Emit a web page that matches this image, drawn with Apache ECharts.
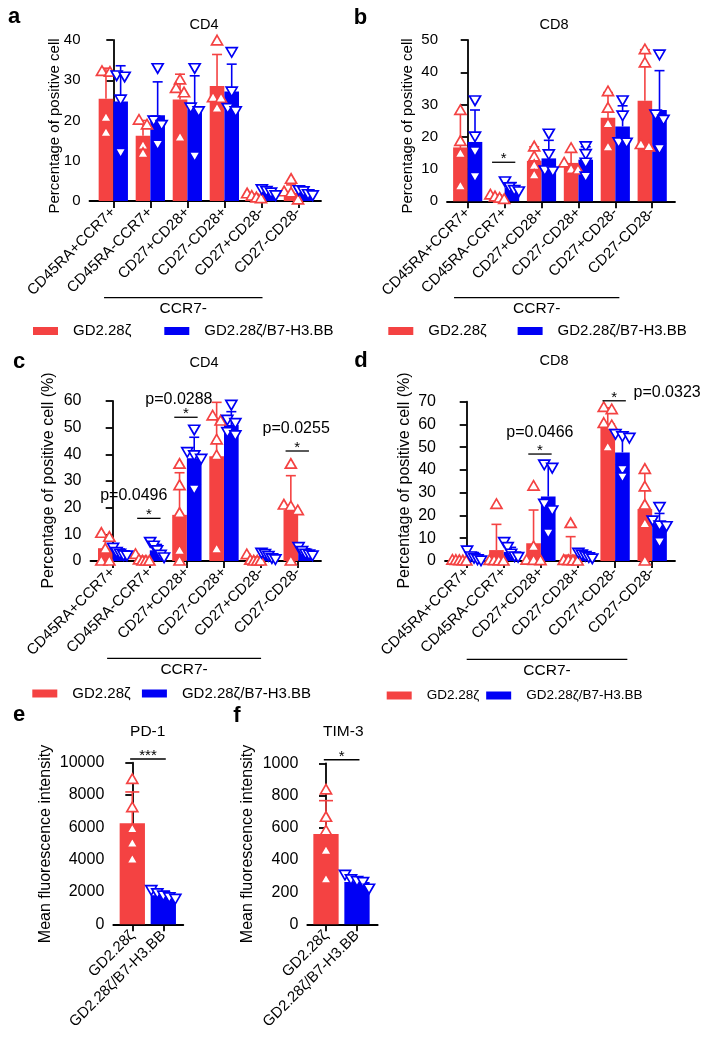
<!DOCTYPE html>
<html><head><meta charset="utf-8">
<script src="https://cdn.jsdelivr.net/npm/echarts@6/dist/echarts.min.js"></script>
<style>html,body{margin:0;padding:0;background:#fff}#c{width:709px;height:1050px}</style>
</head><body><div id="c"></div><script>
const FONT = "'Liberation Sans', Arial, Helvetica, sans-serif";
const RED = '#F44242', BLUE = '#0000F5';

// ---------- data ----------
const CATS = ['CD45RA+CCR7+','CD45RA-CCR7+','CD27+CD28+','CD27-CD28+','CD27+CD28-','CD27-CD28-'];
const GROUPS = ['GD2.28ζ','GD2.28ζ/B7-H3.BB'];

// panel a: CD4, percentage of positive cell
const A_RED_MEAN = [25.4, 16.2, 25.2, 28.6, 1.1, 2.0];
const A_RED_ERR  = [33.0, 20.0, 31.5, 36.4, 1.7, 4.0];
const A_RED_PTS  = [[32.2,32.0,20.7,17.0],[20.1,18.9,13.8,11.8],[30.1,28.0,26.9,15.8],[39.8,25.7,25.5,23.0],[1.8,1.2,0.8,0.6],[5.4,2.3,2.0,0.3]];
const A_BLUE_MEAN = [24.7, 21.3, 22.8, 27.2, 2.1, 2.0];
const A_BLUE_ERR  = [33.6, 29.6, 31.1, 34.0, 2.9, 2.7];
const A_BLUE_PTS  = [[31.3,31.0,25.3,12.1],[33.1,20.1,19.0,14.1],[33.1,23.3,22.4,11.2],[37.1,27.3,23.2,22.4],[3.0,2.6,2.2,1.5],[2.8,2.5,1.8,1.5]];

// panel b: CD8, percentage of positive cell
const B_RED_MEAN = [16.7, 1.0, 12.5, 11.9, 25.9, 31.2];
const B_RED_ERR  = [27.0, 2.0, 16.9, 15.5, 33.7, 47.0];
const B_RED_PTS  = [[28.2,18.6,14.8,4.7],[2.0,1.4,1.0,0.6],[16.9,13.8,11.1,8.1],[16.4,11.9,9.9,9.7],[34.0,28.9,24.0,16.8],[47.0,42.9,17.6,16.9]];
const B_BLUE_MEAN = [18.4, 4.3, 13.3, 12.9, 23.2, 28.3];
const B_BLUE_ERR  = [28.3, 5.8, 18.9, 16.9, 29.6, 40.5];
const B_BLUE_PTS  = [[31.4,20.2,15.6,7.7],[6.3,4.5,3.6,3.2],[21.1,14.7,9.7,9.4],[17.2,14.8,12.1,7.8],[31.4,26.7,18.4,18.3],[45.6,27.0,25.4,16.4]];
const B_SIG = [{from:1, to:1, y:12.1, star:'*', p:''}];

// panel c: CD4, percentage of positive cell (%)
const C_RED_MEAN = [4.8, 0.6, 17.3, 39.3, 0.5, 19.1];
const C_RED_ERR  = [9.3, 1.8, 33.1, 59.5, 1.6, 32.0];
const C_RED_PTS  = [[10.4,8.9,4.5,0,0],[2.5,0.4,0,0,0],[36.3,28.3,17.9,3.9,0],[54.4,52.5,45.4,39.5,4.5],[2.4,0.3,0,0,0],[36.3,21.0,20.4,18.9,0]];
const C_BLUE_MEAN = [3.3, 4.0, 38.5, 51.0, 2.0, 3.6];
const C_BLUE_ERR  = [4.5, 6.2, 46.4, 56.0, 3.0, 4.6];
const C_BLUE_PTS  = [[5.1,3.5,2.9,2.3,2.2],[7.3,5.9,4.2,2.5,1.5],[49.4,41.0,39.8,38.5,27.0],[58.7,53.1,51.9,48.5,47.3],[3.2,2.8,2.0,1.2,0.8],[5.4,3.9,2.9,2.6,2.2]];
const C_SIG = [{from:1,to:1,y:16.0,star:'*',p:'p=0.0496'},{from:2,to:2,y:53.9,star:'*',p:'p=0.0288'},{from:5,to:5,y:41.25,star:'*',p:'p=0.0255'}];

// panel d: CD8, percentage of positive cell (%)
const D_RED_MEAN = [0.2, 4.8, 7.8, 2.9, 60.5, 22.8];
const D_RED_ERR  = [0.5, 16.1, 22.4, 10.7, 67.3, 39.7];
const D_RED_PTS  = [[0.4,0.3,0.2,0.1,0],[24.9,0.3,0.2,0.1,0],[32.9,6.3,0.4,0.3,0.2],[16.5,0.3,0.2,0.1,0],[67.5,66.5,60.5,59.5,50.0],[40.3,32.6,24.6,16.3,0]];
const D_BLUE_MEAN = [1.9, 4.0, 28.3, 2.5, 47.7, 16.3];
const D_BLUE_ERR  = [3.7, 6.0, 42.5, 3.5, 55.3, 20.9];
const D_BLUE_PTS  = [[4.8,2.2,1.5,0.9,0.4],[8.5,6.3,3.4,2.2,1.9],[42.6,41.1,25.3,22.4,12.4],[3.8,3.0,2.4,1.8,1.3],[56.0,55.0,54.3,40.3,37.0],[23.9,18.0,15.8,15.5,8.5]];
const D_SIG = [{from:2,to:2,y:47.0,star:'*',p:'p=0.0466'},{from:4,to:4,y:70.4,star:'*',p:'p=0.0323'}];

// panel e: PD-1 MFI ; panel f: TIM-3 MFI
const E_MEAN = [6250, 1800];
const E_ERR  = [8190, 2020];
const E_PTS  = [[8970,7220,5900,5010,4020],[2150,1950,1800,1700,1600]];
const E_SIG  = [{from:0,to:1,y:10230,star:'***',p:''}];
const F_MEAN = [561, 262];
const F_ERR  = [768, 290];
const F_PTS  = [[835,665,580,458,280],[310,282,271,265,224]];
const F_SIG  = [{from:0,to:1,y:1022,star:'*',p:''}];

const Y_TICKS = {a:[0,40,10], b:[0,50,10], c:[0,60,10], d:[0,70,10], e:[0,10000,2000], f:[0,1000,200]};

// ---------- layout ----------
const GRIDS = [
  {left:89.5, top:40,    width:231.5, height:161,   xmin:-0.643, xmax:5.61,  y:Y_TICKS.a, fs:15, cats:CATS},
  {left:447,  top:40,    width:228,   height:161.3, xmin:-0.561, xmax:5.618, y:Y_TICKS.b, fs:15, cats:CATS},
  {left:90.5, top:401,   width:230.5, height:160,   xmin:-0.598, xmax:5.615, y:Y_TICKS.c, fs:16, cats:CATS},
  {left:445,  top:401.7, width:230,   height:159.3, xmin:-0.585, xmax:5.615, y:Y_TICKS.d, fs:16, cats:CATS},
  {left:113.3,top:762.7, width:70,    height:161.6, xmin:-0.613, xmax:1.645, y:Y_TICKS.e, fs:16, cats:GROUPS},
  {left:307.3,top:763.3, width:70.4,  height:161,   xmin:-0.603, xmax:1.668, y:Y_TICKS.f, fs:16, cats:GROUPS},
];
const P_OFFSETS = [[], [], [[-16,-23],[-8,-18],[-2,-22]], [[-1,-21],[52,-8.5]], [], []];
const BRACKETS = [[-0.25,4.03,96.7],[-0.37,4.11,96.4],[-0.15,4.0,97.3],[0.0,4.33,98.3]];

const grids=[], xAxes=[], yAxes=[], series=[];
GRIDS.forEach((g,gi)=>{
  grids.push({left:g.left, top:g.top, width:g.width, height:g.height, containLabel:false});
  const idx = g.cats.map((_,i)=>i);
  xAxes.push({type:'value', gridIndex:gi, min:g.xmin, max:g.xmax, splitLine:{show:false},
    axisLine:{show:true, onZero:false, lineStyle:{color:'#000', width:1.8}},
    axisTick:{show:true, customValues:idx, length:7, lineStyle:{color:'#000', width:1.8}},
    axisLabel:{show:true, customValues:idx, rotate:45, margin:9, fontSize:15, fontFamily:FONT, color:'#000',
      formatter:(v)=>g.cats[Math.round(v)]}
  });
  yAxes.push({type:'value', gridIndex:gi, min:g.y[0], max:g.y[1], interval:g.y[2], splitLine:{show:false},
    axisLine:{show:true, lineStyle:{color:'#000', width:1.8}},
    axisTick:{show:true, inside:false, length:7, lineStyle:{color:'#000', width:1.8}},
    axisLabel:{margin:9, fontSize:g.fs, fontFamily:FONT, color:'#000', formatter:(v)=>String(v)}
  });
});

function tri(x,y,color,dir){
  const pts = dir>0 ? [[x,y-5.5],[x+5.5,y+4],[x-5.5,y+4]] : [[x,y+5.5],[x+5.5,y-4],[x-5.5,y-4]];
  return {type:'polygon', shape:{points:pts}, style:{fill:'#fff', stroke:color, lineWidth:1.7}, z2:5};
}

function barSeries(gi, name, color, cats, means, errs, pts, dir, off, bw, capW){
  return {type:'custom', name, xAxisIndex:gi, yAxisIndex:gi, clip:false, silent:true,
    itemStyle:{color},
    data: cats.map(c=>[c, means[c], errs[c]]),
    renderItem(params, api){
      const i = params.dataIndex;
      const cat = api.value(0), m = api.value(1), e = api.value(2);
      const unit = api.size([1,0])[0];
      const cx = api.coord([cat+off,0])[0];
      const y0 = api.coord([cat,0])[1];
      const ym = api.coord([cat,m])[1];
      const ye = api.coord([cat,e])[1];
      const w = bw*unit;
      const ch = [];
      ch.push({type:'rect', shape:{x:cx-w/2, y:ym, width:w, height:y0-ym}, style:{fill:color}});
      if (e > m) {
        ch.push({type:'line', shape:{x1:cx,y1:ym,x2:cx,y2:ye}, style:{stroke:color,lineWidth:1.6}});
        ch.push({type:'line', shape:{x1:cx-capW/2,y1:ye,x2:cx+capW/2,y2:ye}, style:{stroke:color,lineWidth:1.6}});
      }
      const vals = pts[cats[i]];
      const ys = vals.map(v=>api.coord([cat,v])[1]).sort((a,b)=>a-b);
      let k=0;
      while(k<ys.length){
        let j=k+1;
        while(j<ys.length && ys[j]-ys[j-1] < 7) j++;
        const n=j-k;
        const sp = n>1 ? Math.min(8, w*0.95/(n-1)) : 0;
        for(let q=0;q<n;q++) ch.push(tri(cx+(q-(n-1)/2)*sp, ys[k+q], color, dir));
        k=j;
      }
      return {type:'group', children:ch};
    }
  };
}

function sigSeries(gi, sigs){
  return {type:'custom', xAxisIndex:gi, yAxisIndex:gi, clip:false, silent:true, z:10,
    data: sigs.map(s=>[s.from, s.y]),
    renderItem(params, api){
      const s = sigs[params.dataIndex];
      const x0v = s.from===s.to ? s.from-0.34 : s.from-0.07;
      const x1v = s.from===s.to ? s.to+0.29 : s.to+0.08;
      const p0 = api.coord([x0v, s.y]), p1 = api.coord([x1v, s.y]);
      const mx = (p0[0]+p1[0])/2;
      const ch = [
        {type:'line', shape:{x1:p0[0],y1:p0[1],x2:p1[0],y2:p1[1]}, style:{stroke:'#000', lineWidth:1.3}},
        {type:'text', x:mx, y:p0[1]-3, style:{text:s.star, fill:'#000', font:'15px '+FONT, align:'center', verticalAlign:'middle'}}
      ];
      if (s.p) {
        const c = api.coord([s.from, s.y]);
        const o = P_OFFSETS[gi][params.dataIndex];
        ch.push({type:'text', x:c[0]+o[0], y:c[1]+o[1], style:{text:s.p, fill:'#000', font:'16px '+FONT, align:'center', verticalAlign:'middle'}});
      }
      return {type:'group', children:ch};
    }
  };
}

function bracketSeries(gi){
  const b = BRACKETS[gi];
  return {type:'custom', xAxisIndex:gi, yAxisIndex:gi, clip:false, silent:true,
    data:[[b[0],0]],
    renderItem(params, api){
      const p0 = api.coord([b[0],0]), p1 = api.coord([b[1],0]);
      const y = p0[1]+b[2];
      return {type:'group', children:[
        {type:'line', shape:{x1:p0[0],y1:y,x2:p1[0],y2:y}, style:{stroke:'#000', lineWidth:1.3}},
        {type:'text', x:(p0[0]+p1[0])/2, y:y+11, style:{text:'CCR7-', fill:'#000', font:'15.5px '+FONT, align:'center', verticalAlign:'middle'}}
      ]};
    }
  };
}

const six = [0,1,2,3,4,5];
const panels = [
  [A_RED_MEAN,A_RED_ERR,A_RED_PTS,A_BLUE_MEAN,A_BLUE_ERR,A_BLUE_PTS,[]],
  [B_RED_MEAN,B_RED_ERR,B_RED_PTS,B_BLUE_MEAN,B_BLUE_ERR,B_BLUE_PTS,B_SIG],
  [C_RED_MEAN,C_RED_ERR,C_RED_PTS,C_BLUE_MEAN,C_BLUE_ERR,C_BLUE_PTS,C_SIG],
  [D_RED_MEAN,D_RED_ERR,D_RED_PTS,D_BLUE_MEAN,D_BLUE_ERR,D_BLUE_PTS,D_SIG],
];
panels.forEach((p,gi)=>{
  series.push(barSeries(gi, GROUPS[0], RED, six, p[0], p[1], p[2], 1, -0.198, 0.395, 10));
  series.push(barSeries(gi, GROUPS[1], BLUE, six, p[3], p[4], p[5], -1, 0.198, 0.395, 10));
  if (p[6].length) series.push(sigSeries(gi, p[6]));
  series.push(bracketSeries(gi));
});
series.push(barSeries(4, GROUPS[0], RED, [0], E_MEAN, E_ERR, E_PTS, 1, 0, 0.816, 14));
series.push(barSeries(4, GROUPS[1], BLUE, [1], E_MEAN, E_ERR, E_PTS, -1, 0, 0.816, 14));
series.push(sigSeries(4, E_SIG));
series.push(barSeries(5, GROUPS[0], RED, [0], F_MEAN, F_ERR, F_PTS, 1, 0, 0.816, 14));
series.push(barSeries(5, GROUPS[1], BLUE, [1], F_MEAN, F_ERR, F_PTS, -1, 0, 0.816, 14));
series.push(sigSeries(5, F_SIG));

function legend(left, top, gap, fs){
  return {show:true, left, top, padding:0, orient:'horizontal', icon:'rect', itemWidth:25, itemHeight:8, itemGap:gap,
    selectedMode:false, data:GROUPS.map(n=>({name:n})),
    textStyle:{fontSize:fs, fontFamily:FONT, color:'#000', padding:[0,0,0,10]}};
}

function txt(text, x, y, font, rot){
  return {type:'text', x, y, rotation:rot||0, silent:true,
    style:{text, fill:'#000', font, align:'center', verticalAlign:'middle', textAlign:'center', textVerticalAlign:'middle'}};
}
const graphic = [
  txt('a', 14, 17, 'bold 22px '+FONT), txt('b', 360.5, 18, 'bold 22px '+FONT),
  txt('c', 19, 362, 'bold 22px '+FONT), txt('d', 361, 361, 'bold 22px '+FONT),
  txt('e', 19, 715, 'bold 22px '+FONT), txt('f', 237, 716, 'bold 22px '+FONT),
  txt('CD4', 204, 25, '14.5px '+FONT), txt('CD8', 554, 25, '14.5px '+FONT),
  txt('CD4', 204, 363, '14.5px '+FONT), txt('CD8', 554, 360.5, '14.5px '+FONT),
  txt('PD-1', 147.7, 731.7, '15.5px '+FONT), txt('TIM-3', 343.3, 731.7, '15.5px '+FONT),
  txt('Percentage of positive cell', 55, 126, '15px '+FONT, Math.PI/2),
  txt('Percentage of positive cell', 408.3, 126, '15px '+FONT, Math.PI/2),
  txt('Percentage of positive cell (%)', 49, 480.5, '16px '+FONT, Math.PI/2),
  txt('Percentage of positive cell (%)', 405, 480.5, '16px '+FONT, Math.PI/2),
  txt('Mean fluorescence intensity', 46, 844, '16px '+FONT, Math.PI/2),
  txt('Mean fluorescence intensity', 247.5, 844, '16px '+FONT, Math.PI/2),
];

const chart = echarts.init(document.getElementById('c'), null, {renderer:'canvas'});
chart.setOption({
  animation:false, backgroundColor:'#fff',
  grid:grids, xAxis:xAxes, yAxis:yAxes, series,
  legend:[legend(33,323.5,33,15), legend(388.3,323.5,31,15), legend(32.3,686,11.3,15), legend(386.7,688.5,7,13.5)],
  graphic
});
</script></body></html>
